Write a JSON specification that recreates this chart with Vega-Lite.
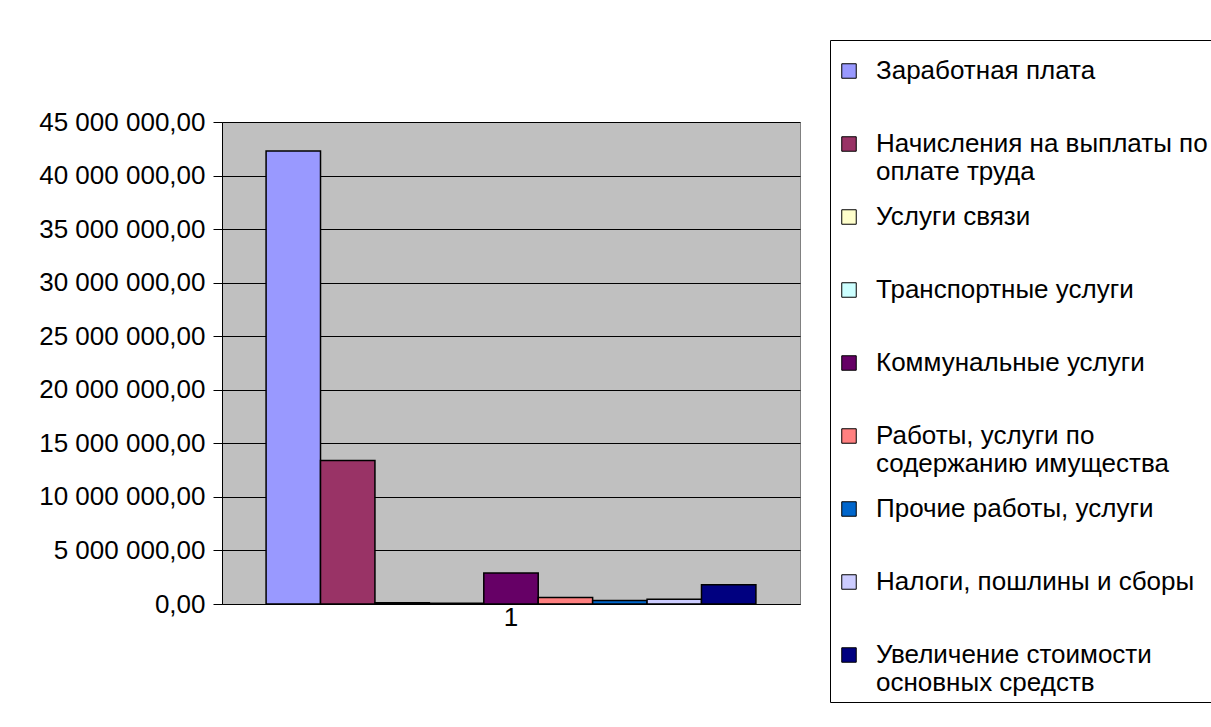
{
  "$schema": "https://vega.github.io/schema/vega-lite/v6.json",
  "width": 578,
  "height": 482,
  "autosize": {"type": "none"},
  "padding": {"left": 222, "top": 122, "right": 411, "bottom": 123},
  "background": "white",
  "config": {
    "locale": {"number": {"decimal": ",", "thousands": " ", "grouping": [3], "currency": ["", ""]}},
    "font": "Liberation Sans",
    "view": {"fill": "#C0C0C0", "stroke": "#808080", "strokeWidth": 1}
  },
  "data": {
    "values": [
      {"g": "1", "cat": "Заработная плата", "v": 42300000},
      {"g": "1", "cat": "Начисления на выплаты по оплате труда", "v": 13400000},
      {"g": "1", "cat": "Услуги связи", "v": 120000},
      {"g": "1", "cat": "Транспортные услуги", "v": 60000},
      {"g": "1", "cat": "Коммунальные услуги", "v": 2900000},
      {"g": "1", "cat": "Работы, услуги по содержанию имущества", "v": 600000},
      {"g": "1", "cat": "Прочие работы, услуги", "v": 320000},
      {"g": "1", "cat": "Налоги, пошлины и сборы", "v": 450000},
      {"g": "1", "cat": "Увеличение стоимости основных средств", "v": 1800000}
    ]
  },
  "mark": {"type": "bar", "stroke": "black", "strokeWidth": 1.5},
  "encoding": {
    "x": {
      "field": "g", "type": "nominal",
      "scale": {"paddingOuter": 0.09, "paddingInner": 0},
      "axis": {"title": null, "labelAngle": 0, "labelFontSize": 26, "labelColor": "black", "labelPadding": 0, "ticks": false, "domainColor": "black", "domainWidth": 1}
    },
    "xOffset": {
      "field": "cat", "type": "nominal",
      "sort": ["Заработная плата", "Начисления на выплаты по оплате труда", "Услуги связи", "Транспортные услуги", "Коммунальные услуги", "Работы, услуги по содержанию имущества", "Прочие работы, услуги", "Налоги, пошлины и сборы", "Увеличение стоимости основных средств"],
      "scale": {"paddingInner": 0}
    },
    "y": {
      "field": "v", "type": "quantitative",
      "scale": {"domain": [0, 45000000]},
      "axis": {"title": null, "values": [0, 5000000, 10000000, 15000000, 20000000, 25000000, 30000000, 35000000, 40000000, 45000000], "format": ",.2f", "labelFontSize": 26, "labelColor": "black", "gridColor": "black", "gridWidth": 1, "gridOpacity": 1, "domainColor": "black", "tickColor": "black", "tickSize": 9, "labelPadding": 8}
    },
    "color": {
      "field": "cat", "type": "nominal",
      "scale": {
        "domain": ["Заработная плата", "Начисления на выплаты по оплате труда", "Услуги связи", "Транспортные услуги", "Коммунальные услуги", "Работы, услуги по содержанию имущества", "Прочие работы, услуги", "Налоги, пошлины и сборы", "Увеличение стоимости основных средств"],
        "range": ["#9999FF", "#993366", "#FFFFCC", "#CCFFFF", "#660066", "#FF8080", "#0066CC", "#CCCCFF", "#000080"]
      },
      "legend": {
        "title": " ",
        "titleFontSize": 12,
        "titlePadding": 0,
        "orient": "none",
        "legendX": 608,
        "legendY": -82,
        "strokeColor": "black",
        "fillColor": "white",
        "padding": 6,
        "labelFontSize": 26,
        "labelColor": "black",
        "labelLimit": 500,
        "labelOffset": 14,
        "symbolType": "square",
        "symbolSize": 210,
        "symbolStrokeColor": "black",
        "symbolStrokeWidth": 1,
        "rowPadding": 19,
        "labelExpr": "datum.label == 'Начисления на выплаты по оплате труда' ? ['Начисления на выплаты по', 'оплате труда'] : datum.label == 'Работы, услуги по содержанию имущества' ? ['Работы, услуги по', 'содержанию имущества'] : datum.label == 'Увеличение стоимости основных средств' ? ['Увеличение стоимости', 'основных средств'] : [datum.label, ' ']"
      }
    }
  }
}
